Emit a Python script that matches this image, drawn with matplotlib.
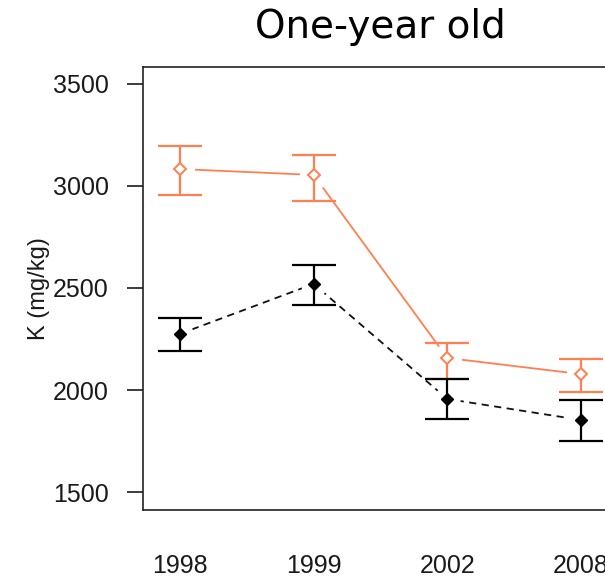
import numpy as np
import matplotlib
matplotlib.use("Agg")
import matplotlib.pyplot as plt

# -- data
years = ["1998", "1999", "2002", "2008"]

open_mean = [3083, 3054, 2157, 2078]
open_low = [2956, 2926, 2054, 1990]
open_high = [3196, 3152, 2230, 2152]

filled_mean = [2275, 2520, 1956, 1853]
filled_low = [2191, 2417, 1858, 1750]
filled_high = [2353, 2613, 2054, 1951]

orange = "#FF7F50"
plt.rcParams["font.family"] = ["Liberation Sans", "DejaVu Sans"]

x = np.arange(1, len(years) + 1)

fig = plt.figure(figsize=(6.05, 5.81), dpi=100)
# the picture is cropped on the right, so the axes run past the figure edge
ax = fig.add_axes([143 / 605, 1 - 510 / 581, 475 / 605, 443 / 581])

# -- connecting lines (R type="b": gaps around the points)
ax.plot(x, open_mean, color=orange, lw=1.3, zorder=1)
ax.plot(x, filled_mean, color="#111111", lw=1.3, ls=(0, (4, 3)), zorder=1)
ax.plot(x, open_mean, ls="none", marker="o", ms=21, mfc="white", mec="none", zorder=2)
ax.plot(x, filled_mean, ls="none", marker="o", ms=19, mfc="white", mec="none", zorder=2)

# -- error bars
def err(mean, low, high):
  m = np.array(mean)
  return [m - np.array(low), np.array(high) - m]

ax.errorbar(x, open_mean, yerr=err(open_mean, open_low, open_high), fmt="none",
            ecolor=orange, elinewidth=1.6, capsize=16, capthick=1.6, zorder=3)
ax.errorbar(x, filled_mean, yerr=err(filled_mean, filled_low, filled_high), fmt="none",
            ecolor="black", elinewidth=1.6, capsize=16, capthick=1.6, zorder=3)

# -- points
ax.plot(x, open_mean, ls="none", marker="D", ms=6.5, mfc="white", mec=orange, mew=1.4, zorder=4)
ax.plot(x, filled_mean, ls="none", marker="D", ms=6.5, mfc="black", mec="black", zorder=4)

ax.set_xlim(1 - 37 / 134, len(years) + 37 / 134)
ax.set_ylim(1412, 3583)
ax.set_yticks([1500, 2000, 2500, 3000, 3500])
ax.set_xticks(x)
ax.set_xticklabels(years)

ax.tick_params(axis="y", length=11.5, width=1.2, pad=13, labelsize=18, colors="#1a1a1a")
ax.tick_params(axis="x", length=0, pad=32, labelsize=18, colors="#1a1a1a")
for spine in ax.spines.values():
  spine.set_linewidth(1.2)
  spine.set_edgecolor("#222222")

ax.set_ylabel("K (mg/kg)", fontsize=17, color="#1a1a1a", labelpad=2)

fig.text(380 / 605, 1 - 27 / 581, "One-year old", ha="center", va="center",
         fontsize=28, family="DejaVu Sans", color="black")

fig.savefig("out.png", dpi=100)
